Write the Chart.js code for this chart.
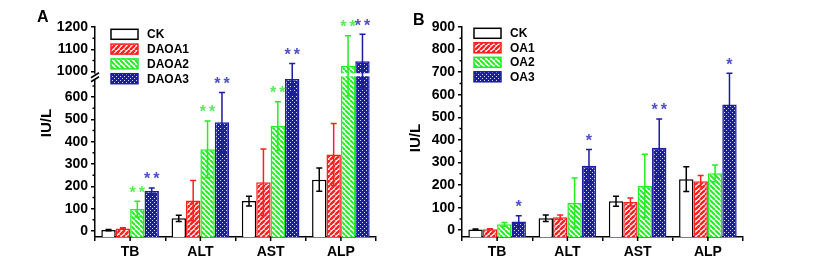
<!DOCTYPE html>
<html>
<head>
<meta charset="utf-8">
<script src="https://cdn.jsdelivr.net/npm/chart.js@4.4.1/dist/chart.umd.min.js"></script>
<style>
    html, body { margin: 0; padding: 0; background: #fff; }
    #wrap { position: relative; width: 821px; height: 268px; overflow: hidden; }
    canvas { position: absolute; top: 0; }
    #chartA { left: 0; }
    #chartB { left: 400px; }
</style>
</head>
<body>
<div id="wrap">
    <canvas id="chartA" width="410" height="268"></canvas>
    <canvas id="chartB" width="421" height="268"></canvas>
</div>
<script>
const categories = ['TB', 'ALT', 'AST', 'ALP']

// panel A (DAOA)
const ckA = [4, 57, 134, 230]
const ckAErr = [3, 14, 22, 52]
const daoa1 = [11, 136, 218, 343]
const daoa1Err = [3, 90, 149, 139]
const daoa2 = [98, 366, 470, 1026]
const daoa2Err = [35, 127, 109, 135]
const daoa3 = [179, 487, 681, 1047]
const daoa3Err = [14, 134, 69, 120]
const daoa2Sig = ['**', '**', '**', '**']
const daoa3Sig = ['**', '**', '**', '**']
const ticksA = [0, 100, 200, 300, 400, 500, 600, 1000, 1100, 1200]
const minorA = [50, 150, 250, 350, 450, 550, 650, 1050, 1150]

// panel B (OA)
const ckB = [3, 53, 128, 226]
const ckBErr = [2, 14, 22, 55]
const oa1 = [4, 57, 125, 217]
const oa1Err = [2, 10, 18, 25]
const oa2 = [26, 121, 196, 252]
const oa2Err = [8, 110, 140, 37]
const oa3 = [39, 285, 365, 557]
const oa3Err = [25, 72, 128, 138]
const oa3Sig = ['*', '*', '**', '*']
const ticksB = [0, 100, 200, 300, 400, 500, 600, 700, 800, 900]
const minorB = [50, 150, 250, 350, 450, 550, 650, 750, 850]


const FONT = '"Liberation Sans", Arial, sans-serif'
Chart.defaults.font.family = FONT
Chart.defaults.color = '#000'

const RED = '#ff1f1f'
const GREEN = '#22ee22'
const BLUE = '#1c1ca4'


/**
 * linear axis with a cut: values from brk.to upward are shifted down to brk.from
 */
class BrokenScale extends Chart.LinearScale {
    static id = 'broken'
    static defaults = {}

    squash(v) {
        const brk = this.options.brk
        return brk && v >= brk.to ? v - (brk.to - brk.from) : v
    }

    getPixelForValue(value) {
        const lo = this.squash(this.min)
        const hi = this.squash(this.max)
        return this.getPixelForDecimal((this.squash(value) - lo) / (hi - lo))
    }

    getValueForPixel(pixel) {
        const lo = this.squash(this.min)
        const hi = this.squash(this.max)
        let v = lo + this.getDecimalForPixel(pixel) * (hi - lo)
        const brk = this.options.brk
        if (brk && v > brk.from) v += brk.to - brk.from
        return v
    }
}
Chart.register(BrokenScale)


function hatch(color, dir, size, width) {
    const c = document.createElement('canvas')
    c.width = c.height = size
    const g = c.getContext('2d')
    g.fillStyle = '#fff'
    g.fillRect(0, 0, size, size)
    g.strokeStyle = color
    g.lineWidth = width
    g.beginPath()
    for (let k = -1; k <= 1; k++) {
        if (dir > 0) {
            g.moveTo(k * size, size)
            g.lineTo(k * size + size, 0)
        } else {
            g.moveTo(k * size, 0)
            g.lineTo(k * size + size, size)
        }
    }
    g.stroke()
    return g.createPattern(c, 'repeat')
}

function dots(color) {
    const c = document.createElement('canvas')
    c.width = c.height = 4
    const g = c.getContext('2d')
    g.fillStyle = color
    g.fillRect(0, 0, 4, 4)
    g.fillStyle = '#d8d8ff'
    g.fillRect(0, 0, 1, 1)
    g.fillRect(2, 2, 1, 1)
    return g.createPattern(c, 'repeat')
}

const redFill = hatch(RED, 1, 5, 2.4)
const greenFill = hatch(GREEN, -1, 5, 2)
const blueFill = dots(BLUE)


function decor(p) {
    return {
        id: 'decor',
        afterDatasetsDraw(chart) {
            const ctx = chart.ctx
            const y = chart.scales.y
            const zero = y.getPixelForValue(0)
            ctx.save()

            // white gap through the bars that reach past the cut
            if (p.brk) {
                const yb = y.getPixelForValue(p.brk.from)
                ctx.fillStyle = '#fff'
                chart.data.datasets.forEach((ds, d) => {
                    chart.getDatasetMeta(d).data.forEach((bar, i) => {
                        if (ds.data[i] >= p.brk.to) {
                            ctx.fillRect(bar.x - bar.width / 2 - 1, yb - 1.5, bar.width + 2, 3)
                        }
                    })
                })
            }

            chart.data.datasets.forEach((ds, d) => {
                chart.getDatasetMeta(d).data.forEach((bar, i) => {
                    const e = zero - y.getPixelForValue(ds.errors[i])
                    const t = bar.y - e
                    const b = bar.y + e
                    ctx.strokeStyle = ds.borderColor
                    ctx.lineWidth = 1.5
                    ctx.beginPath()
                    ctx.moveTo(bar.x, t)
                    ctx.lineTo(bar.x, b)
                    ctx.moveTo(bar.x - 3, t)
                    ctx.lineTo(bar.x + 3, t)
                    ctx.moveTo(bar.x - 3, b)
                    ctx.lineTo(bar.x + 3, b)
                    ctx.stroke()

                    if (ds.sig && ds.sig[i]) {
                        ctx.fillStyle = ds.sigColor
                        ctx.font = 'bold 16px ' + FONT
                        ctx.letterSpacing = '3px'
                        ctx.textAlign = 'center'
                        ctx.textBaseline = 'middle'
                        ctx.fillText(ds.sig[i], bar.x + 1.5, t - 8)
                        ctx.letterSpacing = '0px'
                    }
                })
            })
            ctx.restore()
        },
        afterDraw(chart) {
            const ctx = chart.ctx
            const {left, bottom} = chart.chartArea
            const y = chart.scales.y
            const x = chart.scales.x
            ctx.save()
            ctx.strokeStyle = '#000'
            ctx.lineWidth = 1.5

            // minor ticks on the value axis
            ctx.beginPath()
            p.minor.forEach(v => {
                const py = y.getPixelForValue(v)
                ctx.moveTo(left - 2.5, py)
                ctx.lineTo(left, py)
            })
            // ticks under category centres
            categories.forEach((c, i) => {
                const px = x.getPixelForValue(i)
                ctx.moveTo(px, bottom)
                ctx.lineTo(px, bottom + 4)
            })
            ctx.stroke()

            // break marks on the axis
            if (p.brk) {
                const yb = y.getPixelForValue(p.brk.from) + 2
                ctx.fillStyle = '#fff'
                ctx.fillRect(left - 4, yb - 3, 8, 6)
                ctx.beginPath()
                ctx.moveTo(left - 4, yb + 1)
                ctx.lineTo(left + 4, yb - 4)
                ctx.moveTo(left - 4, yb + 5)
                ctx.lineTo(left + 4, yb)
                ctx.stroke()
            }

            // legend
            chart.data.datasets.forEach((ds, d) => {
                const cy = p.legendY + d * p.legendStep
                ctx.fillStyle = ds.backgroundColor
                ctx.fillRect(p.legendX, cy - 5, 27, 10)
                ctx.strokeStyle = ds.borderColor
                ctx.lineWidth = 1.5
                ctx.strokeRect(p.legendX, cy - 5, 27, 10)
                ctx.fillStyle = '#000'
                ctx.font = 'bold 12px ' + FONT
                ctx.textAlign = 'left'
                ctx.textBaseline = 'middle'
                ctx.fillText(ds.label, p.legendX + 36, cy + 0.5)
            })

            // panel letter
            ctx.font = 'bold 16px ' + FONT
            ctx.textBaseline = 'alphabetic'
            ctx.fillText(p.letter, p.letterX, p.letterY)

            // value axis title
            ctx.translate(p.titleX, p.titleY)
            ctx.rotate(-Math.PI / 2)
            ctx.font = 'bold 15px ' + FONT
            ctx.textAlign = 'center'
            ctx.textBaseline = 'middle'
            ctx.fillText('IU/L', 0, 0)
            ctx.restore()
        },
    }
}


function makeChart(canvasId, p) {
    const tickFont = {family: FONT, size: 14, weight: 'bold'}
    return new Chart(document.getElementById(canvasId), {
        type: 'bar',
        data: {
            labels: categories,
            datasets: p.series.map(s => ({
                label: s.label,
                data: s.data,
                errors: s.errors,
                sig: s.sig,
                sigColor: s.sigColor,
                backgroundColor: s.fill,
                borderColor: s.line,
                borderWidth: 1.5,
                base: p.yMin,
                categoryPercentage: 0.82,
                barPercentage: 1,
            })),
        },
        options: {
            responsive: false,
            animation: false,
            events: [],
            layout: {padding: {top: p.top, right: p.padRight, left: 0, bottom: 0}},
            plugins: {legend: {display: false}, tooltip: {enabled: false}},
            scales: {
                x: {
                    grid: {drawOnChartArea: false, color: '#000', lineWidth: 1.5, tickLength: 4},
                    border: {color: '#000', width: 1.5},
                    ticks: {font: tickFont, padding: 3},
                    afterFit: s => { s.height = 31 },
                },
                y: {
                    type: 'broken',
                    min: p.yMin,
                    max: p.yMax,
                    brk: p.brk,
                    grid: {drawOnChartArea: false, color: '#000', lineWidth: 1.5, tickLength: 4},
                    border: {color: '#000', width: 1.5},
                    ticks: {font: tickFont, padding: 3, callback: v => String(v)},
                    afterBuildTicks: s => { s.ticks = p.ticks.map(v => ({value: v})) },
                    afterFit: s => { s.width = p.axisLeft },
                },
            },
        },
        plugins: [decor(p)],
    })
}


makeChart('chartA', {
    letter: 'A', letterX: 37, letterY: 22,
    titleX: 47, titleY: 123,
    legendX: 111, legendY: 34.3, legendStep: 14.8,
    top: 27, padRight: 34, axisLeft: 95,
    yMin: -27, yMax: 1200,
    brk: {from: 700, to: 986},
    ticks: ticksA, minor: minorA,
    series: [
        {label: 'CK', data: ckA, errors: ckAErr, fill: '#fff', line: '#000'},
        {label: 'DAOA1', data: daoa1, errors: daoa1Err, fill: redFill, line: RED},
        {label: 'DAOA2', data: daoa2, errors: daoa2Err, fill: greenFill, line: GREEN, sig: daoa2Sig, sigColor: '#55ee55'},
        {label: 'DAOA3', data: daoa3, errors: daoa3Err, fill: blueFill, line: BLUE, sig: daoa3Sig, sigColor: '#4f4fc8'},
    ],
})

makeChart('chartB', {
    letter: 'B', letterX: 13, letterY: 25,
    titleX: 15.5, titleY: 138,
    legendX: 74, legendY: 33.3, legendStep: 14.5,
    top: 27, padRight: 78, axisLeft: 62,
    yMin: -30, yMax: 900,
    brk: null,
    ticks: ticksB, minor: minorB,
    series: [
        {label: 'CK', data: ckB, errors: ckBErr, fill: '#fff', line: '#000'},
        {label: 'OA1', data: oa1, errors: oa1Err, fill: redFill, line: RED},
        {label: 'OA2', data: oa2, errors: oa2Err, fill: greenFill, line: GREEN},
        {label: 'OA3', data: oa3, errors: oa3Err, fill: blueFill, line: BLUE, sig: oa3Sig, sigColor: '#4f4fc8'},
    ],
})
</script>
</body>
</html>
